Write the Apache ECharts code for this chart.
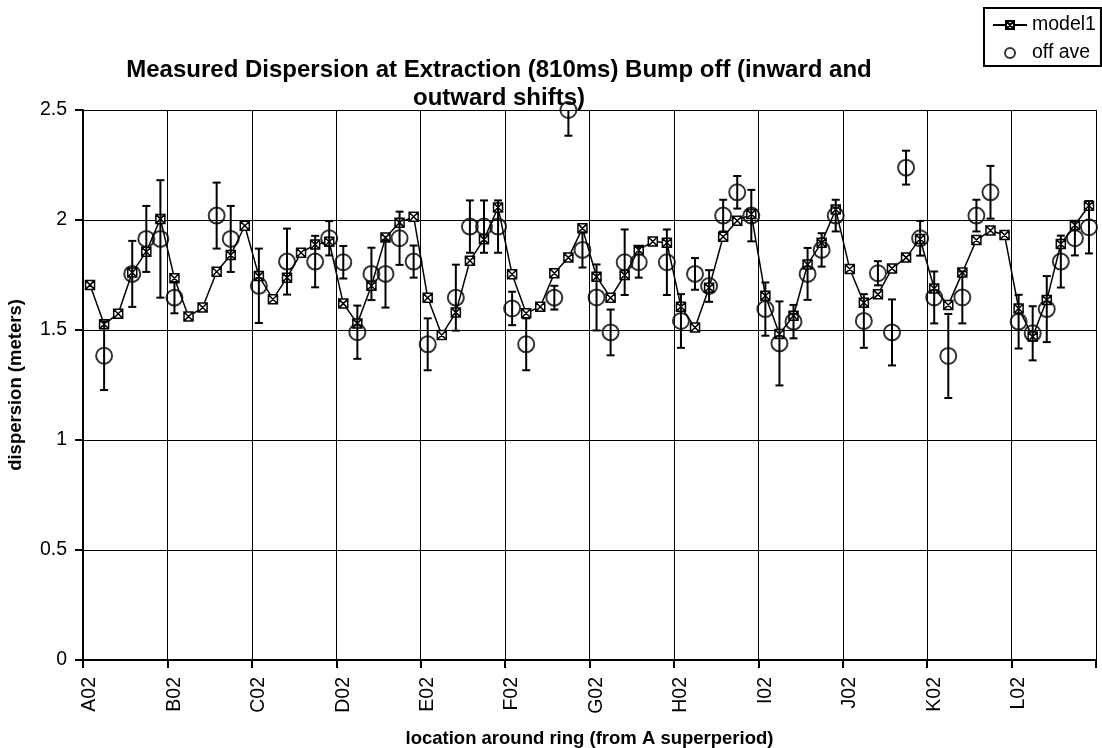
<!DOCTYPE html>
<html><head><meta charset="utf-8">
<script src="https://cdn.jsdelivr.net/npm/echarts@6/dist/echarts.min.js"></script>
<style>html,body{margin:0;padding:0;background:#fff}#c{width:1102px;height:748px}</style>
</head><body><div id="c"></div>
<script>
// Superperiod tick labels (one every 6 locations)
const tickLabels = ['A02','B02','C02','D02','E02','F02','G02','H02','I02','J02','K02','L02'];
const locationsPerSuperperiod = 6;

// 72 locations around the ring
const categories = tickLabels.flatMap(t =>
  Array.from({length: locationsPerSuperperiod}, (_, k) => k === 0 ? t : t + '+' + k));

// model1 dispersion (m)
const model1 = [
  1.705,1.526,1.574,1.761,1.856,2.005,
  1.735,1.561,1.602,1.765,1.841,1.974,
  1.745,1.640,1.738,1.851,1.889,1.901,
  1.620,1.530,1.701,1.920,1.988,2.015,
  1.647,1.477,1.580,1.815,1.912,2.057,
  1.753,1.576,1.606,1.758,1.829,1.962,
  1.742,1.647,1.750,1.864,1.902,1.897,
  1.606,1.511,1.692,1.924,1.997,2.027,
  1.656,1.482,1.565,1.798,1.897,2.048,
  1.777,1.624,1.662,1.780,1.829,1.914,
  1.689,1.614,1.761,1.909,1.952,1.932,
  1.598,1.470,1.636,1.891,1.977,2.065
];

// measured "off ave" dispersion (m), null where not measured
const offAve = [
  null,1.383,null,1.755,1.914,1.914,
  1.647,null,null,2.020,1.914,null,
  1.701,null,1.811,null,1.811,1.917,
  1.808,1.490,1.755,1.755,1.917,1.811,
  1.435,null,1.647,1.970,1.970,1.970,
  1.598,1.435,null,1.647,2.500,1.864,
  1.648,1.489,1.808,1.808,null,1.808,
  1.541,1.755,1.700,2.020,2.126,2.020,
  1.595,1.439,1.538,1.755,1.864,2.020,
  null,1.541,1.758,1.489,2.238,1.917,
  1.648,1.382,1.648,2.020,2.126,null,
  1.538,1.485,1.595,1.811,1.917,1.967
];

// error bar half-length (m)
const offAveErr = [
  null,0.156,null,0.150,0.150,0.267,
  0.071,null,null,0.150,0.150,null,
  0.169,null,0.150,null,0.117,0.078,
  0.074,0.121,0.119,0.153,0.121,0.073,
  0.118,null,0.150,0.119,0.119,0.119,
  0.076,0.118,null,0.054,0.117,0.080,
  0.150,0.104,0.149,0.070,null,0.149,
  0.122,0.072,0.072,0.072,0.074,0.117,
  0.121,0.191,0.076,0.118,0.076,0.072,
  null,0.122,0.055,0.150,0.077,0.079,
  0.118,0.191,0.118,0.072,0.120,null,
  0.122,0.123,0.150,0.118,0.078,0.119
];

const font = '"Liberation Sans", Arial, sans-serif';
const offPoints = offAve.map((v, i) => v == null ? null : [i, v]).filter(Boolean);
const errPoints = offAve.map((v, i) => v == null ? null : [i, v, offAveErr[i]]).filter(Boolean);

const chart = echarts.init(document.getElementById('c'), null, {renderer: 'canvas'});
chart.setOption({
  animation: false,
  backgroundColor: '#fff',
  title: {
    text: 'Measured Dispersion at Extraction (810ms) Bump off (inward and\noutward shifts)',
    left: 494, top: 51, textAlign: 'center', padding: 5,
    textStyle: {fontFamily: font, fontSize: 24, fontWeight: 'bold', color: '#000', lineHeight: 28}
  },
  legend: {
    orient: 'vertical', left: 984, top: 8,
    padding: [7, 5, 3, 8], itemGap: 8,
    itemWidth: 34, itemHeight: 10,
    borderColor: '#000', borderWidth: 2, borderRadius: 0,
    textStyle: {fontFamily: font, fontSize: 19.5, color: '#000', lineHeight: 20},
    data: ['model1', 'off ave']
  },
  grid: {left: 83, right: 6, top: 110, bottom: 88, containLabel: false, outerBoundsMode: 'none'},
  xAxis: {
    type: 'category', data: categories, boundaryGap: true,
    name: 'location around ring (from A superperiod)', nameLocation: 'middle', nameGap: 69,
    nameTextStyle: {fontFamily: font, fontSize: 18.5, fontWeight: 'bold', color: '#000'},
    axisLine: {lineStyle: {color: '#000', width: 2}},
    axisTick: {show: true, interval: locationsPerSuperperiod - 1, alignWithLabel: false, length: 8, inside: false, lineStyle: {color: '#000', width: 2}},
    axisLabel: {
      interval: locationsPerSuperperiod - 1, rotate: 90, margin: 17,
      fontFamily: font, fontSize: 19.5, color: '#000',
      formatter: (v, i) => tickLabels[Math.floor(i / locationsPerSuperperiod)]
    },
    splitLine: {show: true, interval: locationsPerSuperperiod - 1, lineStyle: {color: '#000', width: 1}}
  },
  yAxis: {
    type: 'value', min: 0, max: 2.5, interval: 0.5,
    name: 'dispersion (meters)', nameLocation: 'middle', nameGap: 58,
    nameTextStyle: {fontFamily: font, fontSize: 18.5, fontWeight: 'bold', color: '#000'},
    axisLine: {show: true, lineStyle: {color: '#000', width: 2}},
    axisTick: {show: true, length: 8, lineStyle: {color: '#000', width: 2}},
    axisLabel: {fontFamily: font, fontSize: 19.5, color: '#000', margin: 16},
    splitLine: {show: true, lineStyle: {color: '#000', width: 1}}
  },
  series: [
    {
      name: 'model1', type: 'line', data: model1,
      symbol: 'path://M0,0H10V10H0ZM0,0L10,10M10,0L0,10', symbolSize: 9,
      lineStyle: {color: '#000', width: 1.5},
      itemStyle: {color: '#fff', borderColor: '#000', borderWidth: 1.5},
      z: 3
    },
    {
      name: 'off ave err', type: 'custom', data: errPoints, clip: true, z: 4,
      renderItem: (params, api) => {
        const i = api.value(0), v = api.value(1), e = api.value(2);
        const top = api.coord([i, v + e]);
        const bot = api.coord([i, v - e]);
        const hw = 4;
        const st = {stroke: '#000', lineWidth: 2};
        return {type: 'group', children: [
          {type: 'line', shape: {x1: top[0], y1: top[1], x2: bot[0], y2: bot[1]}, style: st},
          {type: 'line', shape: {x1: top[0] - hw, y1: top[1], x2: top[0] + hw, y2: top[1]}, style: st},
          {type: 'line', shape: {x1: bot[0] - hw, y1: bot[1], x2: bot[0] + hw, y2: bot[1]}, style: st}
        ]};
      }
    },
    {
      name: 'off ave', type: 'scatter', data: offPoints,
      symbol: 'circle', symbolSize: 16, clip: false,
      itemStyle: {color: 'rgba(0,0,0,0)', borderColor: '#000', borderWidth: 2},
      z: 5
    }
  ]
});
</script>
</body></html>
